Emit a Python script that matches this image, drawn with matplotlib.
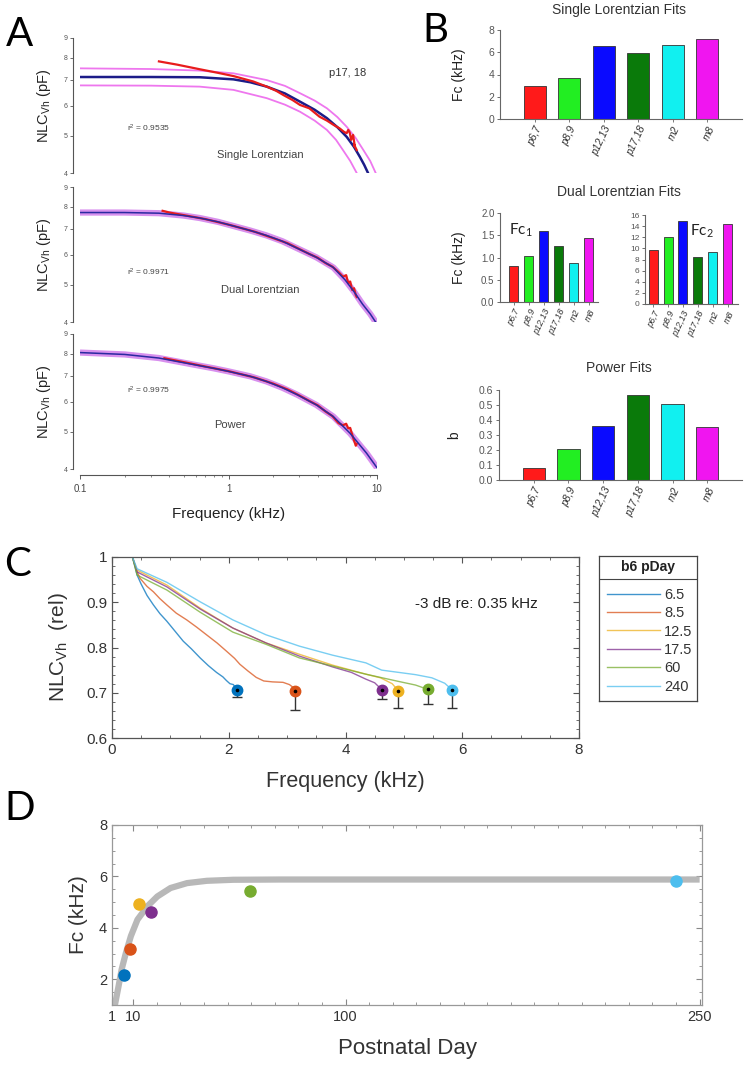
import numpy as np
import matplotlib
matplotlib.use("Agg")
import matplotlib.pyplot as plt
from matplotlib.ticker import MultipleLocator, NullLocator, FixedLocator, NullFormatter

plt.rcParams['font.family'] = ['Liberation Sans', 'DejaVu Sans']
plt.rcParams['mathtext.default'] = 'regular'

# ---------------- Panel A : NLC vs frequency (kHz, pF) ----------------
single_f = [0.1, 0.3, 0.64, 1.08, 1.4, 1.81, 2.4, 3.03, 3.8, 4.6, 5.4, 6.25, 7.0, 7.66, 8.2, 8.7]
single_fit = [7.12, 7.12, 7.11, 7.02, 6.90, 6.72, 6.45, 6.14, 5.85, 5.56, 5.27, 4.97, 4.68, 4.41,
              4.20, 4.0]
single_hi_f = [0.1, 0.3, 0.64, 1.08, 1.81, 2.4, 3.03, 3.8, 4.6, 5.4, 6.25, 7.2, 8.1, 9.0, 9.8]
single_hi = [7.50, 7.47, 7.40, 7.28, 6.99, 6.75, 6.46, 6.18, 5.90, 5.60, 5.28, 4.93, 4.59, 4.30, 4.0]
single_lo_f = [0.1, 0.3, 0.64, 1.08, 1.81, 2.4, 3.03, 3.8, 4.6, 5.3, 5.9, 6.6, 7.3]
single_lo = [6.77, 6.76, 6.72, 6.59, 6.27, 6.03, 5.78, 5.48, 5.18, 4.88, 4.59, 4.30, 4.0]
single_data_f = [0.34, 0.45, 0.64, 0.85, 1.08, 1.47, 1.81, 2.1, 2.34, 2.7, 3.03, 3.5, 4.1, 4.6,
                 5.1, 5.6, 6.0, 6.25, 6.4, 6.55, 6.7, 6.9, 7.1, 7.0, 7.3]
single_data = [7.82, 7.67, 7.46, 7.30, 7.16, 6.93, 6.72, 6.55, 6.39, 6.20, 6.02, 5.90, 5.61, 5.48,
               5.34, 5.23, 5.12, 5.08, 5.18, 5.10, 4.88, 5.03, 4.68, 4.75, 4.59]

dual_f = [0.1, 0.2, 0.34, 0.5, 0.64, 0.85, 1.08, 1.4, 1.8, 2.3, 2.9, 3.9, 5.08, 6.1, 7.0, 8.0, 9.0, 10.0]
dual_fit = [7.72, 7.72, 7.69, 7.58, 7.47, 7.30, 7.12, 6.93, 6.73, 6.50, 6.23, 5.90, 5.55, 5.15,
            4.80, 4.45, 4.20, 3.95]
dual_data_f = [0.36, 0.4, 0.5, 0.7, 1.0, 1.5, 2.0, 2.5, 3.0, 3.5, 4.0, 4.5, 5.0, 5.5, 5.9,
               6.2, 6.4, 6.6, 6.8, 7.0, 7.2, 7.3]
dual_data = [7.80, 7.72, 7.60, 7.42, 7.18, 6.88, 6.62, 6.42, 6.20, 6.02, 5.88, 5.70, 5.58, 5.40,
             5.25, 5.30, 5.05, 5.10, 4.85, 4.90, 4.70, 4.65]

power_f = [0.1, 0.2, 0.34, 0.55, 0.8, 1.0, 1.4, 1.8, 2.3, 2.9, 3.9, 5.08, 6.58, 8.5, 10.0]
power_fit = [8.05, 7.96, 7.79, 7.52, 7.32, 7.19, 6.98, 6.77, 6.52, 6.25, 5.88, 5.48, 4.96, 4.40, 4.03]
power_data_f = [0.37, 0.5, 0.7, 1.0, 1.5, 2.0, 2.5, 3.0, 3.5, 4.0, 4.5, 5.0, 5.5, 5.9, 6.2,
                6.4, 6.6, 6.8, 7.0, 7.2, 7.3]
power_data = [7.78, 7.60, 7.40, 7.20, 6.93, 6.68, 6.45, 6.22, 6.02, 5.86, 5.65, 5.50, 5.27, 5.20,
              5.25, 5.11, 5.12, 4.92, 4.75, 4.60, 4.65]

# ---------------- Panel B : fit parameters ----------------
groups = ["p6,7", "p8,9", "p12,13", "p17,18", "m2", "m8"]
bar_colors = ["#ff1a1a", "#22ee22", "#0a0aff", "#0a7a0a", "#11f0f0", "#f015f0"]
single_fc = [2.98, 3.70, 6.60, 5.90, 6.69, 7.16]
dual_fc1 = [0.80, 1.04, 1.60, 1.25, 0.87, 1.43]
dual_fc2 = [9.7, 12.0, 14.9, 8.5, 9.4, 14.4]
power_b = [0.082, 0.21, 0.358, 0.569, 0.507, 0.353]

# ---------------- Panel C : normalised NLC ----------------
pday_labels = ["6.5", "8.5", "12.5", "17.5", "60", "240"]
pday_colors = ["#0072BD", "#D95319", "#EDB120", "#7E2F8E", "#77AC30", "#4DBEEE"]
c_f = [
    [0.35, 0.4, 0.43, 0.5, 0.6, 0.71, 0.82, 0.94, 1.08, 1.22, 1.36, 1.51, 1.65, 1.79, 1.9,
     1.96, 2.02, 2.08, 2.14],
    [0.35, 0.42, 0.48, 0.6, 0.71, 0.82, 0.94, 1.1, 1.28, 1.45, 1.62, 1.8, 1.96, 2.1, 2.19,
     2.33, 2.47, 2.6, 2.75, 2.93, 3.04, 3.1, 3.15],
    [0.35, 0.43, 0.94, 1.51, 2.07, 2.64, 3.21, 3.78, 4.35, 4.6, 4.8, 4.9],
    [0.35, 0.43, 0.94, 1.51, 2.07, 2.64, 3.21, 3.78, 4.1, 4.35, 4.5, 4.62],
    [0.35, 0.43, 0.94, 1.51, 2.07, 2.64, 3.21, 3.78, 4.35, 4.91, 5.2, 5.42],
    [0.35, 0.43, 0.94, 1.51, 2.07, 2.64, 3.21, 3.78, 4.35, 4.62, 4.91, 5.2, 5.48, 5.7, 5.82],
]
c_y = [
    [1.0, 0.975, 0.96, 0.94, 0.915, 0.894, 0.875, 0.858, 0.836, 0.814, 0.797, 0.777, 0.76,
     0.745, 0.735, 0.727, 0.72, 0.718, 0.706],
    [1.0, 0.97, 0.953, 0.935, 0.923, 0.908, 0.894, 0.876, 0.861, 0.845, 0.828, 0.81, 0.792,
     0.776, 0.763, 0.748, 0.734, 0.726, 0.724, 0.723, 0.718, 0.712, 0.703],
    [1.0, 0.971, 0.938, 0.887, 0.843, 0.81, 0.785, 0.761, 0.741, 0.733, 0.72, 0.705],
    [1.0, 0.967, 0.934, 0.885, 0.843, 0.81, 0.781, 0.757, 0.745, 0.73, 0.722, 0.707],
    [1.0, 0.96, 0.927, 0.878, 0.834, 0.807, 0.777, 0.759, 0.741, 0.725, 0.717, 0.707],
    [1.0, 0.974, 0.944, 0.901, 0.861, 0.828, 0.803, 0.783, 0.766, 0.75, 0.745, 0.74, 0.733,
     0.721, 0.707],
]
cut_f = [2.14, 3.14, 4.90, 4.62, 5.42, 5.82]
cut_y = [0.706, 0.703, 0.704, 0.707, 0.708, 0.707]
cut_low = [0.690, 0.662, 0.666, 0.686, 0.675, 0.666]

# ---------------- Panel D : Fc vs postnatal day ----------------
d_day = [6.2, 8.6, 12.5, 17.4, 59.4, 240]
d_fc = [2.17, 3.16, 4.93, 4.62, 5.42, 5.83]
fit_day = [1.9, 2.3, 3.8, 5.1, 6.9, 9.0, 11.8, 16.0, 20.2, 25.8, 32.8, 41.2, 52.4, 72, 120, 250]
fit_fc = [0.80, 1.03, 1.74, 2.39, 3.03, 3.68, 4.32, 4.84, 5.22, 5.55, 5.74, 5.83, 5.87, 5.88,
          5.88, 5.88]

W, H = 749, 1066
fig = plt.figure(figsize=(W / 100, H / 100), dpi=100)


def box(l, t, r, b):
    return [l / W, 1 - b / H, (r - l) / W, (b - t) / H]


# ================= Panel A =================
a_boxes = [(80, 38, 377, 173), (80, 187, 377, 322), (80, 334, 377, 469)]
a_sets = [
    (single_f, single_fit, single_data_f, single_data),
    (dual_f, dual_fit, dual_data_f, dual_data),
    (power_f, power_fit, power_data_f, power_data),
]
r2_text = ["r$^2$ = 0.9535", "r$^2$ = 0.9971", "r$^2$ = 0.9975"]
r2_pos = [(0.23, 0.33), (0.23, 0.37), (0.23, 0.585)]
name_text = ["Single Lorentzian", "Dual Lorentzian", "Power"]
name_pos = [(0.606, 0.133), (0.606, 0.237), (0.505, 0.326)]

for i, (bx, (ff, fit, df, dd)) in enumerate(zip(a_boxes, a_sets)):
    ax = fig.add_axes(box(*bx))
    ax.set_xscale('log')
    ax.set_yscale('log')
    if i == 0:
        ax.plot(single_hi_f, single_hi, color='#ee77ee', lw=1.3)
        ax.plot(single_lo_f, single_lo, color='#ee77ee', lw=1.3)
        ax.plot(ff, fit, color='#1c1c88', lw=1.8)
        ax.plot(df, dd, color='#e81c1c', lw=1.6)
    else:
        ax.plot(ff, fit, color='#d890ee', lw=4.5, solid_capstyle='butt')
        ax.plot(df, dd, color='#e81c1c', lw=1.6)
        ax.plot(ff, fit, color='#2a2aa0', lw=1.1)
    ax.set_xlim(0.1, 10)
    ax.set_ylim(4, 9)
    ax.yaxis.set_major_locator(FixedLocator([4, 5, 6, 7, 8, 9]))
    ax.yaxis.set_major_formatter(plt.FuncFormatter(lambda v, p: "%d" % round(v)))
    ax.yaxis.set_minor_locator(NullLocator())
    for s in ['top', 'right']:
        ax.spines[s].set_visible(False)
    ax.spines['left'].set_position(('outward', 5))
    ax.spines['left'].set_color('#555555')
    ax.spines['left'].set_linewidth(0.8)
    ax.tick_params(axis='y', labelsize=5, colors='#555555', length=2, width=0.6, pad=2)
    ax.set_ylabel("NLC$_{Vh}$ (pF)", fontsize=10.5, color='#222222')
    ax.yaxis.set_label_coords(-0.092, 0.5)
    ax.text(*r2_pos[i], r2_text[i], transform=ax.transAxes, fontsize=6, color='#444444',
            ha='center', va='center')
    ax.text(*name_pos[i], name_text[i], transform=ax.transAxes, fontsize=8, color='#444444',
            ha='center', va='center')
    if i == 0:
        ax.text(0.90, 0.74, "p17, 18", transform=ax.transAxes, fontsize=8, color='#333333',
                ha='center', va='center')
    if i < 2:
        ax.spines['bottom'].set_visible(False)
        ax.tick_params(axis='x', which='both', bottom=False, labelbottom=False)
    else:
        ax.spines['bottom'].set_position(('outward', 4))
        ax.spines['bottom'].set_color('#555555')
        ax.spines['bottom'].set_linewidth(0.8)
        ax.xaxis.set_major_locator(FixedLocator([0.1, 1, 10]))
        ax.xaxis.set_major_formatter(plt.FuncFormatter(lambda v, p: "%g" % v))
        ax.xaxis.set_minor_formatter(NullFormatter())
        ax.tick_params(axis='x', which='major', labelsize=7, colors='#444444', length=3, width=0.6)
        ax.tick_params(axis='x', which='minor', length=1.5, width=0.5, colors='#555555')
        ax.set_xlabel("Frequency (kHz)", fontsize=11, color='#222222', labelpad=10)

# ================= Panel B =================
xpos = np.arange(len(groups))


def bar_axes(bx, vals, xlim, ylim, yticks, fmt, width, tsize, lsize):
    ax = fig.add_axes(box(*bx))
    ax.bar(xpos, vals, width=width, color=bar_colors, edgecolor='#333333', linewidth=0.6)
    ax.set_xlim(*xlim)
    ax.set_ylim(*ylim)
    ax.set_yticks(yticks)
    ax.set_yticklabels([fmt % v for v in yticks])
    ax.set_xticks(xpos)
    ax.set_xticklabels(groups, rotation=65, ha='right', rotation_mode='anchor', fontsize=lsize,
                       style='italic', color='#333333')
    for s in ['top', 'right']:
        ax.spines[s].set_visible(False)
    for s in ['left', 'bottom']:
        ax.spines[s].set_color('#666666')
        ax.spines[s].set_linewidth(0.8)
    ax.tick_params(axis='y', labelsize=tsize, colors='#555555', length=2, width=0.6, pad=2)
    ax.tick_params(axis='x', length=2, width=0.6, colors='#666666', pad=2)
    for lab in ax.get_xticklabels():
        lab.set_color('#333333')
    return ax


b1 = bar_axes((500, 30, 742, 119), single_fc, (-1, 6), (0, 8), [0, 2, 4, 6, 8], "%d", 0.64, 7.5, 7.5)
b1.set_ylabel("Fc (kHz)", fontsize=10, color='#222222')
b1.yaxis.set_label_coords(-0.14, 0.5)

b2 = bar_axes((500, 213, 598, 302), dual_fc1, (-0.93, 5.6), (0, 2), [0, 0.5, 1.0, 1.5, 2.0],
              "%.1f", 0.6, 7, 6.5)
b2.set_ylabel("Fc (kHz)", fontsize=10, color='#222222')
b2.yaxis.set_label_coords(-0.347, 0.5)

b3 = bar_axes((645, 215, 738, 304), dual_fc2, (-0.55, 5.7), (0, 16), list(range(0, 17, 2)),
              "%d", 0.6, 6, 6.5)

b4 = bar_axes((499, 390, 742, 480), power_b, (-1, 6), (0, 0.6), [0, 0.1, 0.2, 0.3, 0.4, 0.5, 0.6],
              "%.1f", 0.64, 7.5, 7.5)
b4.set_ylabel("b", fontsize=10, color='#222222')
b4.yaxis.set_label_coords(-0.156, 0.5)

fig.text(619 / W, 1 - 10 / H, "Single Lorentzian Fits", fontsize=10, color='#333333',
         ha='center', va='center')
fig.text(619 / W, 1 - 192 / H, "Dual Lorentzian Fits", fontsize=10, color='#333333',
         ha='center', va='center')
fig.text(619 / W, 1 - 368 / H, "Power Fits", fontsize=10, color='#333333',
         ha='center', va='center')
fig.text(521 / W, 1 - 230 / H, "Fc$_1$", fontsize=11, color='#222222', ha='center', va='center',
         family=['Lato', 'DejaVu Sans'])
fig.text(702 / W, 1 - 231 / H, "Fc$_2$", fontsize=11, color='#222222', ha='center', va='center',
         family=['Lato', 'DejaVu Sans'])

# ================= Panel C =================
axc = fig.add_axes(box(112, 557, 579, 738))
c_lines = []
for f, y, col, lab in zip(c_f, c_y, pday_colors, pday_labels):
    ln, = axc.plot(f, y, color=col, lw=1.0, alpha=0.75, label=lab)
    c_lines.append(ln)
for f, y, lo, col in zip(cut_f, cut_y, cut_low, pday_colors):
    axc.errorbar([f], [y], yerr=[[y - lo], [0]], fmt='none', ecolor='#333333', elinewidth=1,
                 capsize=3.5, capthick=1, zorder=3)
    axc.plot([f], [y], 'o', color=col, ms=7.5, zorder=4)
    axc.plot([f], [y], 'o', color='black', ms=1.6, zorder=5)
axc.set_xlim(0, 8)
axc.set_ylim(0.6, 1.0)
axc.xaxis.set_major_locator(MultipleLocator(2))
axc.xaxis.set_minor_locator(MultipleLocator(0.5))
axc.yaxis.set_major_locator(MultipleLocator(0.1))
axc.yaxis.set_minor_locator(MultipleLocator(0.02))
axc.yaxis.set_major_formatter(plt.FuncFormatter(lambda v, p: "%g" % round(v, 2)))
axc.tick_params(which='both', direction='in', top=True, right=True, colors='#555555',
                labelcolor='#333333', labelsize=11)
axc.tick_params(which='major', length=4, width=0.8)
axc.tick_params(which='minor', length=2, width=0.6)
for s in axc.spines.values():
    s.set_color('#555555')
    s.set_linewidth(0.9)
axc.set_xlabel("Frequency (kHz)", fontsize=15.5, color='#333333', labelpad=10)
axc.set_ylabel("NLC$_{Vh}$  (rel)", fontsize=15, color='#333333')
axc.yaxis.set_label_coords(-0.09, 0.5)
axc.text(0.78, 0.74, "-3 dB re: 0.35 kHz", transform=axc.transAxes, fontsize=11,
         color='#222222', ha='center', va='center')

# legend box
axl = fig.add_axes(box(599, 556, 697, 701))
axl.set_xticks([])
axl.set_yticks([])
for s in axl.spines.values():
    s.set_color('#444444')
    s.set_linewidth(0.9)
axl.axhline(1 - 23 / 145, color='#444444', lw=0.8)
axl.text(0.5, 1 - 11 / 145, "b6 pDay", transform=axl.transAxes, fontsize=10, fontweight='bold',
         color='#222222', ha='center', va='center')
axl.legend(handles=c_lines, labels=pday_labels, loc='lower left', bbox_to_anchor=(-0.02, -0.02),
           frameon=False, fontsize=10.5, handlelength=3.6, handletextpad=0.3, labelspacing=0.3,
           borderaxespad=0.3, labelcolor='#333333')

# ================= Panel D =================
axd = fig.add_axes(box(112, 825, 702, 1005))
axd.plot(fit_day, fit_fc, color='#b8b8b8', lw=4.5, solid_capstyle='butt', zorder=2)
for x, y, col in zip(d_day, d_fc, pday_colors):
    axd.plot([x], [y], 'o', color=col, ms=8, zorder=3)
axd.set_xlim(1, 251)
axd.set_ylim(1, 8)
axd.set_xticks([1, 10, 100, 250])
axd.set_xticklabels(["1", "10", "100", "250"])
axd.xaxis.set_minor_locator(MultipleLocator(10))
axd.yaxis.set_major_locator(FixedLocator([2, 4, 6, 8]))
axd.yaxis.set_minor_locator(MultipleLocator(0.5))
axd.tick_params(which='both', direction='in', top=True, right=True, colors='#888888',
                labelcolor='#333333', labelsize=10.5)
axd.tick_params(which='major', length=4, width=0.8)
axd.tick_params(which='minor', length=2, width=0.6)
for s in axd.spines.values():
    s.set_color('#999999')
    s.set_linewidth(0.9)
axd.set_xlabel("Postnatal Day", fontsize=16, color='#333333', labelpad=10)
axd.set_ylabel("Fc (kHz)", fontsize=15, color='#333333')
axd.yaxis.set_label_coords(-0.04, 0.5)

# panel letters
for lab, (px, py) in zip("ABCD", [(20, 34), (435, 30), (18, 565), (20, 808)]):
    fig.text(px / W, 1 - py / H, lab, fontsize=29, ha='center', va='center', color='black',
             family=['Lato', 'DejaVu Sans'])

fig.savefig("out.png", dpi=100)
